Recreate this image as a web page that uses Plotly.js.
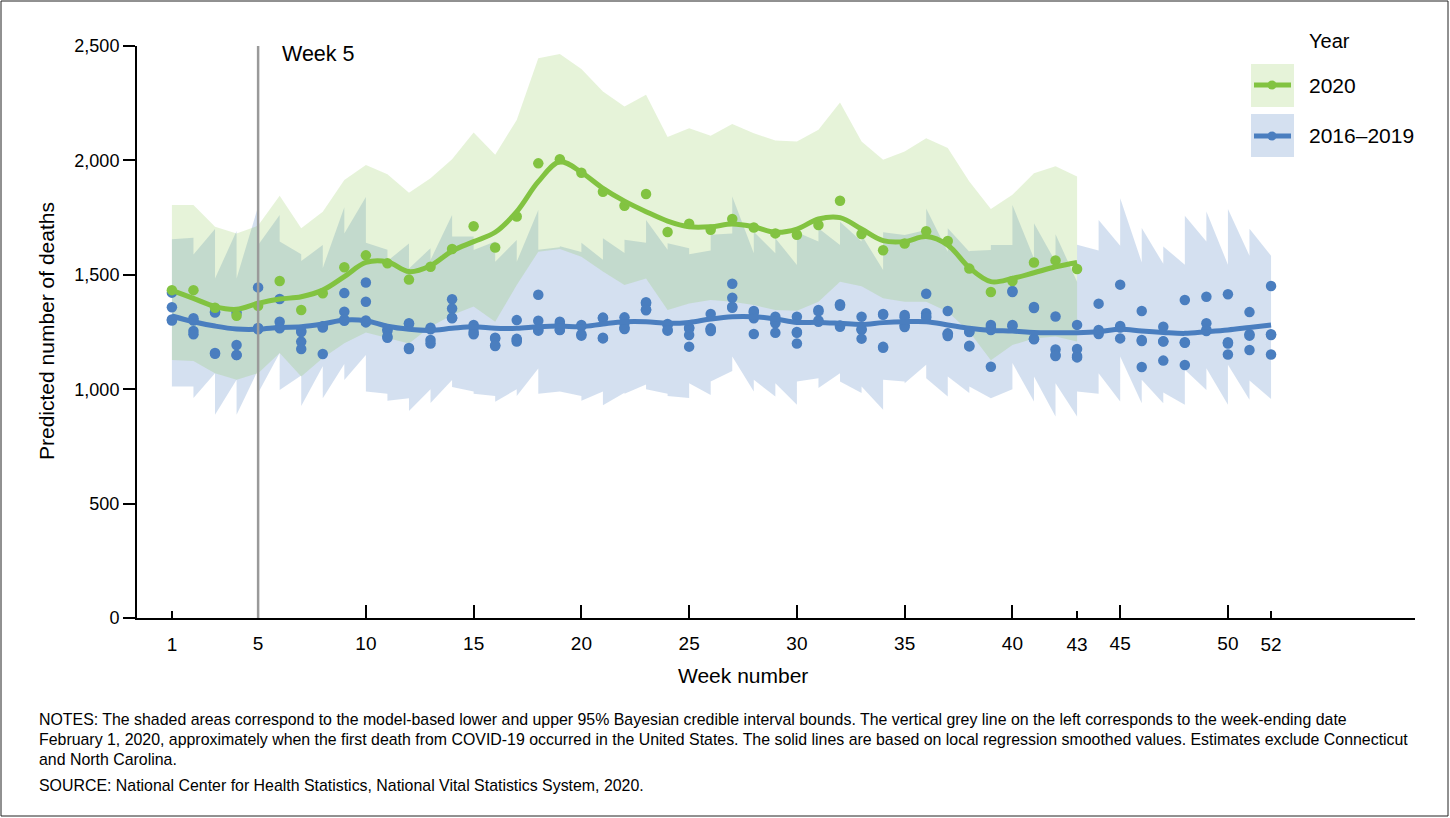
<!DOCTYPE html>
<html>
<head>
<meta charset="utf-8">
<script src="https://cdn.plot.ly/plotly-3.0.1.min.js"></script>
<style>html,body{margin:0;padding:0;background:#fff;}#chart{width:1450px;height:818px;}</style>
</head>
<body>
<div id="chart"></div>
<script>
// ---------------- DATA ----------------
const weeks2020 = Array.from({length: 43}, (_, i) => i + 1);
const weeksAll = Array.from({length: 52}, (_, i) => i + 1);

// 2020 weekly estimates (points)
const deaths2020 = [1433,1433,1356,1321,1365,1473,1346,1419,1533,1585,1550,1479,1535,1613,1712,1619,1755,1987,2005,1946,1863,1802,1853,1687,1723,1697,1744,1707,1681,1675,1718,1824,1678,1607,1637,1690,1648,1527,1425,1473,1554,1563,1525];
// 2020 smoothed line
const smooth2020 = [1432,1397,1361,1349,1375,1394,1404,1433,1492,1554,1557,1514,1540,1604,1645,1686,1776,1907,1994,1948,1878,1822,1776,1735,1710,1710,1722,1710,1686,1700,1744,1750,1700,1649,1645,1667,1630,1531,1470,1484,1509,1535,1554];
// 2020 95% credible interval
const upper2020 = [1805,1805,1710,1680,1715,1846,1703,1776,1914,1980,1940,1859,1922,2005,2122,2025,2177,2447,2465,2399,2301,2236,2287,2102,2140,2108,2159,2119,2087,2083,2134,2253,2083,2003,2039,2097,2054,1908,1788,1850,1944,1974,1930];
const lower2020 = [1128,1123,1070,1041,1070,1158,1056,1136,1201,1248,1225,1200,1273,1324,1361,1295,1455,1601,1613,1579,1514,1455,1484,1346,1375,1390,1382,1368,1346,1343,1382,1470,1450,1397,1382,1382,1339,1251,1127,1193,1222,1230,1208];

// 2016–2019 weekly estimates (four years per week)
const deaths2016to2019 = [
 [1422,1358,1305,1300],[1310,1300,1254,1240],[1339,1335,1158,1155],[1334,1193,1149,1150],
 [1445,1265,1262,1268],[1394,1295,1266,1270],[1256,1208,1176,1250],[1273,1154,1270,1275],
 [1420,1339,1299,1305],[1466,1382,1292,1300],[1262,1255,1225,1230],[1288,1285,1180,1176],
 [1269,1262,1215,1200],[1393,1353,1313,1310],[1281,1270,1250,1240],[1225,1222,1192,1189],
 [1302,1220,1215,1208],[1413,1299,1260,1256],[1295,1285,1260,1259],[1281,1275,1240,1234],
 [1313,1310,1225,1222],[1314,1288,1270,1263],[1380,1375,1349,1345],[1285,1280,1260,1256],
 [1270,1265,1237,1186],[1329,1266,1260,1254],[1461,1400,1360,1356],[1342,1335,1310,1241],
 [1317,1300,1288,1247],[1317,1250,1247,1200],[1346,1340,1300,1295],[1371,1365,1278,1273],
 [1317,1262,1260,1221],[1329,1325,1185,1181],[1324,1315,1280,1272],[1417,1332,1320,1313],
 [1342,1244,1240,1232],[1251,1250,1190,1187],[1281,1270,1259,1098],[1429,1425,1281,1275],
 [1359,1355,1220,1218],[1318,1174,1150,1145],[1281,1176,1145,1139],[1374,1259,1250,1241],
 [1457,1276,1270,1222],[1342,1215,1211,1097],[1273,1210,1208,1125],[1390,1205,1203,1106],
 [1404,1288,1260,1254],[1415,1205,1200,1152],[1337,1240,1234,1171],[1451,1240,1237,1152]
];
// 2016–2019 smoothed line
const smooth2016to2019 = [1320,1295,1276,1263,1262,1270,1273,1285,1302,1299,1275,1262,1257,1266,1273,1266,1266,1273,1276,1273,1285,1295,1295,1288,1292,1307,1317,1317,1307,1292,1292,1288,1283,1291,1295,1295,1281,1266,1257,1254,1248,1247,1247,1251,1262,1254,1248,1244,1251,1259,1270,1281];
// 2016–2019 95% credible interval (first and last year's bound within each week)
const upperFirst1619 = [1655,1662,1700,1691,1798,1761,1590,1630,1795,1840,1610,1637,1616,1761,1667,1645,1652,1783,1620,1600,1566,1595,1640,1609,1616,1606,1680,1594,1594,1543,1645,1630,1645,1521,1677,1696,1601,1601,1608,1630,1572,1557,1470,1606,1627,1554,1548,1544,1646,1544,1583,1583];
const upperLast1619  = [1655,1589,1484,1484,1630,1645,1560,1530,1680,1640,1560,1528,1565,1667,1608,1557,1557,1610,1625,1640,1660,1653,1740,1638,1590,1675,1842,1688,1660,1686,1703,1732,1674,1686,1674,1790,1703,1604,1630,1805,1725,1677,1631,1740,1835,1704,1624,1758,1777,1788,1701,1583];
const lowerFirst1619 = [1012,1012,1070,1041,1085,1158,1060,1100,1110,1150,980,960,1000,1040,990,970,1000,1090,990,970,990,985,1020,980,961,975,1080,990,968,932,1048,1070,983,910,1034,1107,968,983,960,1000,946,881,881,980,946,939,939,932,997,932,954,957];
const lowerLast1619  = [1012,961,888,888,983,997,927,960,1040,990,950,905,940,1010,980,945,970,980,990,950,930,980,1000,970,1026,1034,1143,1041,1026,1034,1005,1034,1012,1041,1026,1048,1056,1012,960,1114,1056,1026,990,1070,1143,1041,986,1085,1092,1107,1038,957];

// Axis ticks
const majorTicks = [5,10,15,20,25,30,35,40,45,50];
const minorTicks = [1,43,52];
const yTicks = [0,500,1000,1500,2000,2500];
const markerWeek = 5;

// ---------------- STYLE ----------------
const GREEN = '#82C341';
const BLUE = '#4A7EBF';
const GREEN_FILL = 'rgba(130,194,65,0.2)';
const BLUE_FILL = 'rgba(74,126,191,0.24)';
const FONT = 'Liberation Sans, Arial, Helvetica, sans-serif';

// ---------------- BUILD ----------------
const bbx = [], bby = [];
weeksAll.forEach((w, i) => { bbx.push(w, w); bby.push(upperFirst1619[i], upperLast1619[i]); });
for (let i = weeksAll.length - 1; i >= 0; i--) { bbx.push(weeksAll[i], weeksAll[i]); bby.push(lowerLast1619[i], lowerFirst1619[i]); }
const gbx = weeks2020.concat(weeks2020.slice().reverse());
const gby = upper2020.concat(lower2020.slice().reverse());
const bpx = [], bpy = [];
deaths2016to2019.forEach((vals, i) => vals.forEach(v => { bpx.push(weeksAll[i]); bpy.push(v); }));

const traces = [
  {x: bbx, y: bby, type: 'scatter', mode: 'lines', fill: 'toself', fillcolor: BLUE_FILL, line: {width: 0}, hoverinfo: 'skip', showlegend: false},
  {x: gbx, y: gby, type: 'scatter', mode: 'lines', fill: 'toself', fillcolor: GREEN_FILL, line: {width: 0}, hoverinfo: 'skip', showlegend: false},
  {x: bpx, y: bpy, type: 'scatter', mode: 'markers', marker: {color: BLUE, size: 10.5}, showlegend: false},
  {x: weeksAll, y: smooth2016to2019, type: 'scatter', mode: 'lines', line: {color: BLUE, width: 5, shape: 'spline', smoothing: 1}, showlegend: false},
  {x: weeks2020, y: deaths2020, type: 'scatter', mode: 'markers', marker: {color: GREEN, size: 10.5}, showlegend: false},
  {x: weeks2020, y: smooth2020, type: 'scatter', mode: 'lines', line: {color: GREEN, width: 5, shape: 'spline', smoothing: 1}, showlegend: false, xaxis: 'x2'}
];

const L = 137, R = 1415, T = 46, B = 618, W = 1450, H = 818;
const px = v => (v - L) / (R - L);
const py = v => (B - v) / (B - T);

const xRange = [-0.62, 58.68];
const noteFont = {family: FONT, size: 15.9, color: '#000'};

const annotations = [
  {text: 'Week 5', x: px(280), y: py(54), xref: 'paper', yref: 'paper', xanchor: 'left', yanchor: 'middle', showarrow: false, font: {family: FONT, size: 21.5, color: '#000'}},
  {text: 'Predicted number of deaths', x: px(46), y: py(331), xref: 'paper', yref: 'paper', xanchor: 'center', yanchor: 'middle', textangle: -90, showarrow: false, font: {family: FONT, size: 21, color: '#000'}},
  {text: 'Week number', x: px(743), y: py(675), xref: 'paper', yref: 'paper', xanchor: 'center', yanchor: 'middle', showarrow: false, font: {family: FONT, size: 21, color: '#000'}},
  {text: 'Year', x: px(1307), y: py(41), xref: 'paper', yref: 'paper', xanchor: 'left', yanchor: 'middle', showarrow: false, font: {family: FONT, size: 20, color: '#000'}},
  {text: '2020', x: px(1307), y: py(85), xref: 'paper', yref: 'paper', xanchor: 'left', yanchor: 'middle', showarrow: false, font: {family: FONT, size: 21, color: '#000'}},
  {text: '2016–2019', x: px(1307), y: py(136), xref: 'paper', yref: 'paper', xanchor: 'left', yanchor: 'middle', showarrow: false, font: {family: FONT, size: 21, color: '#000'}},
  {text: 'NOTES: The shaded areas correspond to the model-based lower and upper 95% Bayesian credible interval bounds. The vertical grey line on the left corresponds to the week-ending date', x: px(37), y: py(719), xref: 'paper', yref: 'paper', xanchor: 'left', yanchor: 'middle', showarrow: false, font: noteFont},
  {text: 'February 1, 2020, approximately when the first death from COVID-19 occurred in the United States. The solid lines are based on local regression smoothed values. Estimates exclude Connecticut', x: px(37), y: py(739), xref: 'paper', yref: 'paper', xanchor: 'left', yanchor: 'middle', showarrow: false, font: noteFont},
  {text: 'and North Carolina.', x: px(37), y: py(759), xref: 'paper', yref: 'paper', xanchor: 'left', yanchor: 'middle', showarrow: false, font: noteFont},
  {text: 'SOURCE: National Center for Health Statistics, National Vital Statistics System, 2020.', x: px(37), y: py(785), xref: 'paper', yref: 'paper', xanchor: 'left', yanchor: 'middle', showarrow: false, font: noteFont}
];

const shapes = [
  {type: 'rect', xref: 'paper', yref: 'paper', x0: px(1), x1: px(1448), y0: py(816), y1: py(1), line: {color: '#222', width: 1}, fillcolor: 'rgba(0,0,0,0)', layer: 'below'},
  {type: 'line', xref: 'x', yref: 'paper', x0: markerWeek, x1: markerWeek, y0: 0, y1: 1, line: {color: '#9a9a9a', width: 2.5}, layer: 'above'},
  {type: 'rect', xref: 'paper', yref: 'paper', x0: px(1251), x1: px(1294), y0: py(107), y1: py(64), fillcolor: GREEN_FILL, line: {width: 0}},
  {type: 'line', xref: 'paper', yref: 'paper', x0: px(1254), x1: px(1291), y0: py(85), y1: py(85), line: {color: GREEN, width: 5}},
  {type: 'circle', xref: 'paper', yref: 'paper', x0: px(1267.5), x1: px(1276.5), y0: py(89.5), y1: py(80.5), fillcolor: GREEN, line: {width: 0}},
  {type: 'rect', xref: 'paper', yref: 'paper', x0: px(1251), x1: px(1294), y0: py(157), y1: py(114), fillcolor: BLUE_FILL, line: {width: 0}},
  {type: 'line', xref: 'paper', yref: 'paper', x0: px(1254), x1: px(1291), y0: py(136), y1: py(136), line: {color: BLUE, width: 5}},
  {type: 'circle', xref: 'paper', yref: 'paper', x0: px(1267.5), x1: px(1276.5), y0: py(140.5), y1: py(131.5), fillcolor: BLUE, line: {width: 0}}
];

const layout = {
  width: W, height: H,
  margin: {l: L, r: W - R, t: T, b: H - B, pad: 0},
  paper_bgcolor: '#fff', plot_bgcolor: '#fff',
  showlegend: false,
  font: {family: FONT, color: '#000'},
  xaxis: {
    range: xRange, showgrid: false, zeroline: false,
    showline: true, linecolor: '#000', linewidth: 2,
    ticks: 'inside', ticklen: 13, tickwidth: 2, tickcolor: '#000',
    tickmode: 'array', tickvals: majorTicks, ticktext: majorTicks.map(String),
    tickfont: {family: FONT, size: 19, color: '#000'}, ticklabelstandoff: 7
  },
  xaxis2: {
    range: xRange, overlaying: 'x', anchor: 'y', side: 'bottom',
    showgrid: false, zeroline: false, showline: false,
    ticks: 'inside', ticklen: 7, tickwidth: 2, tickcolor: '#000',
    tickmode: 'array', tickvals: minorTicks, ticktext: minorTicks.map(String),
    tickfont: {family: FONT, size: 19, color: '#000'}, ticklabelstandoff: 13
  },
  yaxis: {
    range: [0, 2500], showgrid: false, zeroline: false,
    showline: true, linecolor: '#000', linewidth: 2,
    ticks: 'outside', ticklen: 12, tickwidth: 2, tickcolor: '#000',
    tickmode: 'array', tickvals: yTicks, tickformat: ',',
    tickfont: {family: FONT, size: 18, color: '#000'}
  },
  annotations: annotations,
  shapes: shapes
};

Plotly.newPlot('chart', traces, layout, {staticPlot: true, displayModeBar: false});
</script>
</body>
</html>
